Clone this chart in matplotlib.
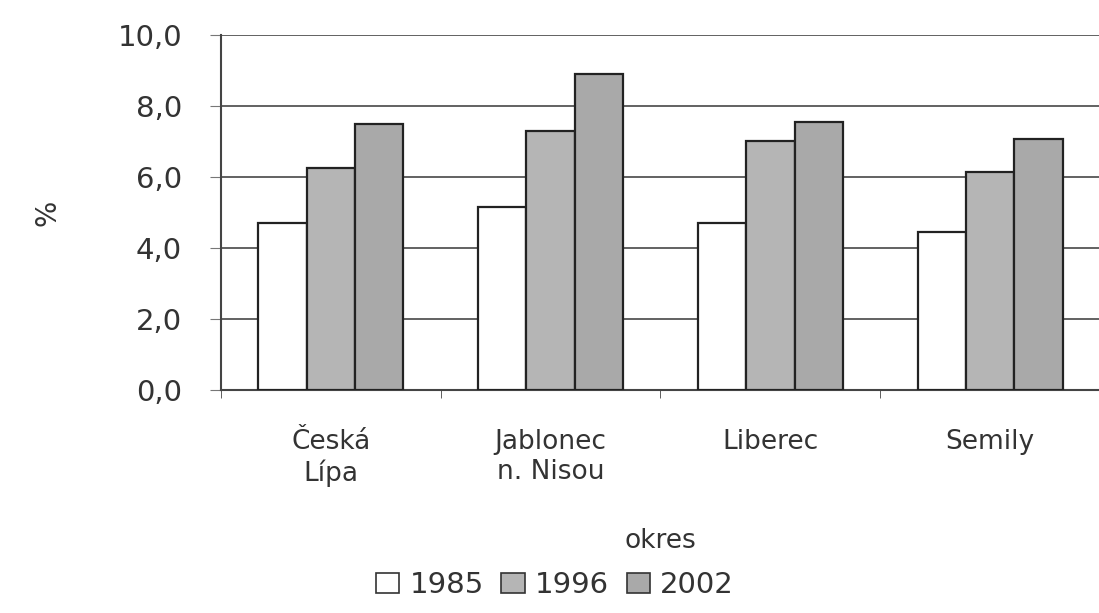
import matplotlib
matplotlib.use("Agg")
import matplotlib.pyplot as plt
import numpy as np
from matplotlib.patches import Patch

categories = ["Česká\nLípa", "Jablonec\nn. Nisou", "Liberec", "Semily"]
years = ["1985", "1996", "2002"]
v1985 = [4.7, 5.15, 4.7, 4.45]
v1996 = [6.25, 7.3, 7.0, 6.15]
v2002 = [7.5, 8.9, 7.55, 7.07]
yticks = [0, 2, 4, 6, 8, 10]

plt.rcParams['font.family'] = ['DejaVu Sans']

fig = plt.figure(figsize=(10.99, 6.13), dpi=100)
ax = fig.add_axes([0.201, 0.364, 0.80, 0.579])

x = np.arange(len(categories))
w = 0.22
colors = ["white", "#b5b5b5", "#a9a9a9"]
series = [v1985, v1996, v2002]
for i, (vals, c) in enumerate(zip(series, colors)):
    ax.bar(x + (i - 1) * w, vals, width=w, color=c, edgecolor="#222222",
           linewidth=1.6, zorder=3, label=years[i])

ax.set_xlim(-0.5, 3.5)
ax.set_ylim(0, 10)
ax.set_yticks(yticks)
ax.set_yticklabels([f"{t:.1f}".replace(".", ",") for t in yticks], fontsize=21, color="#333333")
ax.yaxis.grid(True, color="#555555", linewidth=1.3, zorder=0)
ax.set_axisbelow(True)

ax.set_xticks(x)
ax.set_xticklabels(categories, fontsize=19, color="#333333", linespacing=1.2)
ax.tick_params(axis='x', length=0, pad=28)
ax.set_xticks(np.arange(-0.5, 4.0, 1.0), minor=True)
ax.tick_params(axis='x', which='minor', length=6, color="#444444")
ax.tick_params(axis='y', length=8, color="#777777", pad=20)

for s in ["top", "right"]:
    ax.spines[s].set_visible(False)
ax.spines["left"].set_color("#444444")
ax.spines["left"].set_linewidth(1.5)
ax.spines["bottom"].set_color("#444444")
ax.spines["bottom"].set_linewidth(1.5)

ax.set_ylabel("%", fontsize=20, color="#333333", labelpad=40)
ax.set_xlabel("okres", fontsize=19, color="#333333", labelpad=30)

handles = [Patch(facecolor=c, edgecolor="#333333", linewidth=1.2) for c in colors]
fig.legend(handles, years, loc="center", bbox_to_anchor=(0.505, 0.045), ncol=3,
           frameon=False, fontsize=21, handlelength=0.8, handleheight=0.7,
           handletextpad=0.35, columnspacing=0.6, labelcolor="#333333")

fig.savefig("out.png", dpi=100)
